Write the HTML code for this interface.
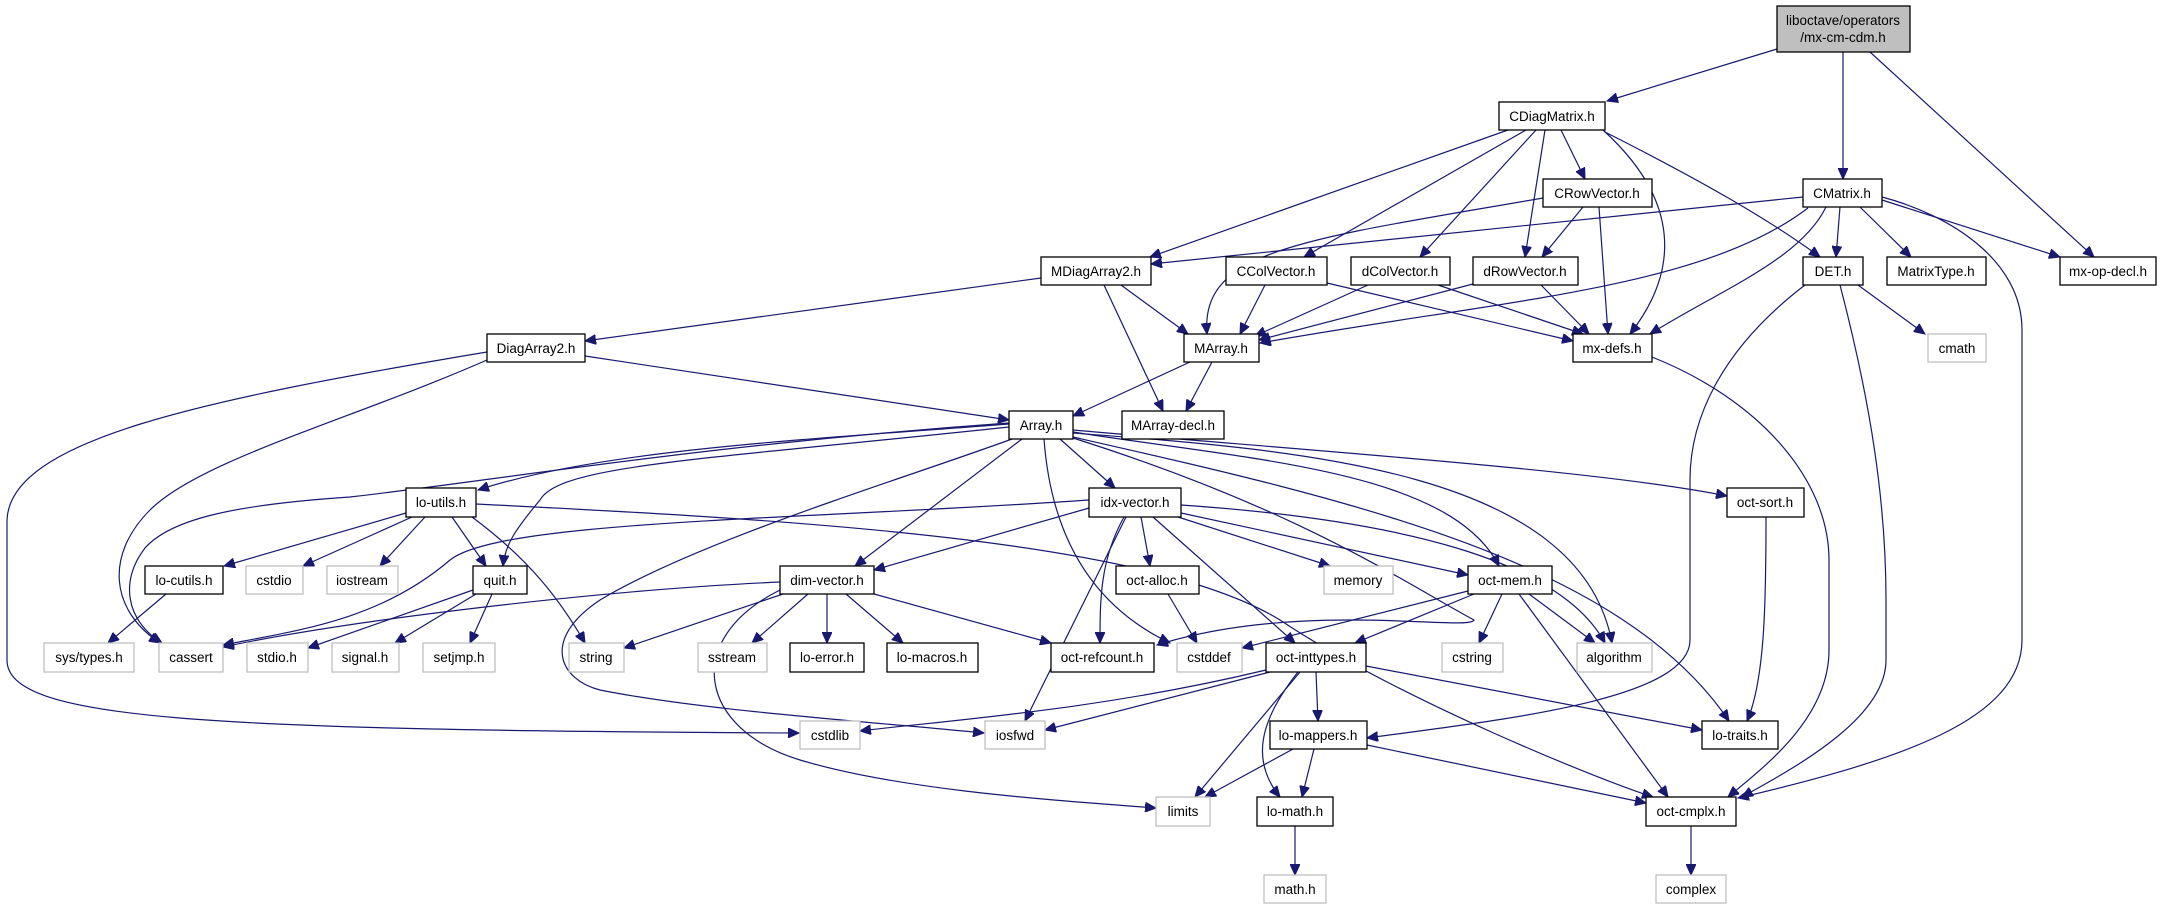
<!DOCTYPE html>
<html><head><meta charset="utf-8"><style>
html,body{margin:0;padding:0;background:#fff;}
svg{display:block;}
text{font-family:"Liberation Sans",sans-serif;font-size:13.5px;text-anchor:middle;fill:#000;}
.n{fill:#fff;stroke:#000;stroke-width:1.3;}
.g{fill:#fff;stroke:#bfbfbf;stroke-width:1.3;}
path{fill:none;stroke:#191970;stroke-width:1.2;marker-end:url(#a);}
</style></head><body>
<svg width="2162" height="909" viewBox="0 0 2162 909" xmlns="http://www.w3.org/2000/svg">
<defs><marker id="a" markerUnits="userSpaceOnUse" markerWidth="12" markerHeight="10" refX="11" refY="5" orient="auto"><path d="M0,0 L11,5 L0,10 Z" style="fill:#191970;stroke:#191970;stroke-width:1;marker-end:none"/></marker></defs>
<!-- edges -->
<path d="M1777,49 L1607,101"/>
<path d="M1843,52 L1843,179"/>
<path d="M1870,52 L2094,257"/>
<path d="M1508,130 L1150,257"/>
<path d="M1526,130 L1304,257"/>
<path d="M1536,130 L1420,257"/>
<path d="M1545,130 L1525,257"/>
<path d="M1561,130 L1585,179"/>
<path d="M1603,130 C1680,200 1680,270 1630,334"/>
<path d="M1605,132 C1700,180 1770,220 1820,257"/>
<path d="M1543,198 C1300,240 1200,250 1207,334"/>
<path d="M1583,207 L1542,257"/>
<path d="M1599,207 L1608,334"/>
<path d="M1803,197 L1151,264"/>
<path d="M1808,208 C1700,290 1500,300 1260,343"/>
<path d="M1826,207 C1800,260 1720,290 1650,334"/>
<path d="M1840,207 L1836,257"/>
<path d="M1860,207 L1911,257"/>
<path d="M1882,200 L2060,257"/>
<path d="M1882,197 C1950,215 2022,260 2022,330 L2022,640 C2022,720 1900,760 1738,798"/>
<path d="M1041,278 L585,341"/>
<path d="M1121,285 L1188,334"/>
<path d="M1104,285 L1163,411"/>
<path d="M1265,285 L1240,334"/>
<path d="M1327,283 L1573,341"/>
<path d="M1368,285 L1255,336"/>
<path d="M1438,285 L1583,334"/>
<path d="M1473,284 L1259,340"/>
<path d="M1541,285 L1589,334"/>
<path d="M1858,285 L1925,334"/>
<path d="M1805,285 C1720,350 1690,420 1690,480 L1690,640 C1690,700 1500,720 1367,738"/>
<path d="M1840,285 C1870,400 1886,500 1886,600 L1886,660 C1886,720 1790,770 1742,797"/>
<path d="M1652,357 C1760,400 1829,480 1829,560 L1829,650 C1829,720 1760,770 1728,797"/>
<path d="M1190,362 L1073,416"/>
<path d="M1212,362 L1186,411"/>
<path d="M585,356 L1009,420"/>
<path d="M487,360 C350,420 200,460 150,510 C105,555 110,610 160,643"/>
<path d="M487,352 C200,400 10,440 7,520 L7,660 C7,720 200,730 799,733"/>
<path d="M1009,424 C800,440 600,450 478,490"/>
<path d="M1009,427 C700,460 560,465 540,500 C515,530 505,545 503,566"/>
<path d="M1009,423 C700,445 500,480 350,497 C230,505 170,520 145,548 C120,580 125,620 162,643"/>
<path d="M1022,439 L855,566"/>
<path d="M1060,439 L1115,488"/>
<path d="M1044,439 C1050,520 1080,600 1170,643"/>
<path d="M1012,439 C900,480 700,540 600,600 C540,640 560,680 600,690 C700,710 850,720 984,733"/>
<path d="M1073,432 C1250,460 1450,470 1499,566"/>
<path d="M1073,433 C1300,450 1580,470 1612,643"/>
<path d="M1073,437 C1350,500 1620,560 1729,721"/>
<path d="M1073,430 C1300,450 1600,470 1727,496"/>
<path d="M1073,438 C1300,510 1400,580 1474,620 C1470,632 1300,600 1157,645"/>
<path d="M406,513 L224,566"/>
<path d="M412,517 L303,566"/>
<path d="M425,517 L380,566"/>
<path d="M452,517 L486,566"/>
<path d="M472,517 C530,560 560,600 585,643"/>
<path d="M476,504 C800,520 1150,540 1280,620 C1400,700 1600,780 1653,797"/>
<path d="M166,594 L108,643"/>
<path d="M473,590 L308,648"/>
<path d="M476,594 L395,643"/>
<path d="M492,594 L470,643"/>
<path d="M780,582 C600,590 350,620 223,647"/>
<path d="M783,594 L624,648"/>
<path d="M808,594 L752,643"/>
<path d="M827,594 L827,643"/>
<path d="M846,594 L903,643"/>
<path d="M874,594 L1051,643"/>
<path d="M780,590 C680,640 700,730 800,760 C900,790 1050,800 1156,808"/>
<path d="M1089,508 L874,570"/>
<path d="M1089,500 C800,520 500,520 450,560 C380,620 300,630 223,645"/>
<path d="M1141,517 L1150,566"/>
<path d="M1178,517 L1330,566"/>
<path d="M1181,513 L1468,575"/>
<path d="M1181,505 C1400,520 1560,560 1605,643"/>
<path d="M1153,517 L1295,643"/>
<path d="M1124,517 C1100,560 1100,600 1100,643"/>
<path d="M1126,517 L1025,721"/>
<path d="M1168,594 L1197,643"/>
<path d="M1468,591 L1242,648"/>
<path d="M1474,594 L1355,643"/>
<path d="M1502,594 L1479,643"/>
<path d="M1529,594 L1595,643"/>
<path d="M1519,594 L1668,797"/>
<path d="M1266,670 C1100,710 950,720 860,731"/>
<path d="M1270,672 L1045,730"/>
<path d="M1300,672 L1195,797"/>
<path d="M1298,672 C1260,720 1250,760 1280,797"/>
<path d="M1316,672 L1318,721"/>
<path d="M1366,666 L1702,730"/>
<path d="M1293,749 L1205,797"/>
<path d="M1314,749 L1302,797"/>
<path d="M1367,745 L1646,803"/>
<path d="M1295,826 L1295,875"/>
<path d="M1691,826 L1691,875"/>
<path d="M1766,517 C1766,600 1765,680 1747,721"/>
<!-- nodes -->
<rect x="1777" y="6" width="133" height="46" style="fill:#bfbfbf;stroke:#000;stroke-width:1.3"/>
<text x="1843" y="25">liboctave/operators</text><text x="1843" y="42">/mx-cm-cdm.h</text>
<rect class="n" x="1499" y="102" width="106" height="28"/><text x="1552" y="121">CDiagMatrix.h</text>
<rect class="n" x="1543" y="179" width="109" height="28"/><text x="1597" y="198">CRowVector.h</text>
<rect class="n" x="1803" y="179" width="79" height="28"/><text x="1842" y="198">CMatrix.h</text>
<rect class="n" x="1041" y="257" width="110" height="28"/><text x="1096" y="276">MDiagArray2.h</text>
<rect class="n" x="1226" y="257" width="101" height="28"/><text x="1276" y="276">CColVector.h</text>
<rect class="n" x="1351" y="257" width="99" height="28"/><text x="1400" y="276">dColVector.h</text>
<rect class="n" x="1473" y="257" width="105" height="28"/><text x="1525" y="276">dRowVector.h</text>
<rect class="n" x="1803" y="257" width="60" height="28"/><text x="1833" y="276">DET.h</text>
<rect class="n" x="1887" y="257" width="99" height="28"/><text x="1936" y="276">MatrixType.h</text>
<rect class="n" x="2060" y="257" width="96" height="28"/><text x="2108" y="276">mx-op-decl.h</text>
<rect class="n" x="487" y="334" width="98" height="28"/><text x="536" y="353">DiagArray2.h</text>
<rect class="n" x="1184" y="334" width="75" height="28"/><text x="1221" y="353">MArray.h</text>
<rect class="n" x="1573" y="334" width="79" height="28"/><text x="1612" y="353">mx-defs.h</text>
<rect class="g" x="1928" y="334" width="58" height="28"/><text x="1957" y="353">cmath</text>
<rect class="n" x="1009" y="411" width="64" height="28"/><text x="1041" y="430">Array.h</text>
<rect class="n" x="1122" y="411" width="102" height="28"/><text x="1173" y="430">MArray-decl.h</text>
<rect class="n" x="406" y="488" width="70" height="29"/><text x="441" y="507">lo-utils.h</text>
<rect class="n" x="1089" y="488" width="92" height="29"/><text x="1135" y="507">idx-vector.h</text>
<rect class="n" x="1727" y="488" width="77" height="29"/><text x="1765" y="507">oct-sort.h</text>
<rect class="n" x="145" y="566" width="78" height="28"/><text x="184" y="585">lo-cutils.h</text>
<rect class="g" x="246" y="566" width="57" height="28"/><text x="274" y="585">cstdio</text>
<rect class="g" x="327" y="566" width="71" height="28"/><text x="362" y="585">iostream</text>
<rect class="n" x="473" y="566" width="54" height="28"/><text x="500" y="585">quit.h</text>
<rect class="n" x="780" y="566" width="94" height="28"/><text x="827" y="585">dim-vector.h</text>
<rect class="n" x="1116" y="566" width="83" height="28"/><text x="1157" y="585">oct-alloc.h</text>
<rect class="g" x="1324" y="566" width="69" height="28"/><text x="1358" y="585">memory</text>
<rect class="n" x="1468" y="566" width="84" height="28"/><text x="1510" y="585">oct-mem.h</text>
<rect class="g" x="44" y="643" width="90" height="29"/><text x="89" y="662">sys/types.h</text>
<rect class="g" x="159" y="643" width="64" height="29"/><text x="191" y="662">cassert</text>
<rect class="g" x="247" y="643" width="61" height="29"/><text x="277" y="662">stdio.h</text>
<rect class="g" x="332" y="643" width="67" height="29"/><text x="365" y="662">signal.h</text>
<rect class="g" x="423" y="643" width="72" height="29"/><text x="459" y="662">setjmp.h</text>
<rect class="g" x="569" y="643" width="55" height="29"/><text x="596" y="662">string</text>
<rect class="g" x="698" y="643" width="69" height="29"/><text x="732" y="662">sstream</text>
<rect class="n" x="790" y="643" width="74" height="29"/><text x="827" y="662">lo-error.h</text>
<rect class="n" x="887" y="643" width="91" height="29"/><text x="932" y="662">lo-macros.h</text>
<rect class="n" x="1051" y="643" width="103" height="29"/><text x="1102" y="662">oct-refcount.h</text>
<rect class="g" x="1177" y="643" width="65" height="29"/><text x="1209" y="662">cstddef</text>
<rect class="n" x="1266" y="643" width="100" height="29"/><text x="1316" y="662">oct-inttypes.h</text>
<rect class="g" x="1442" y="643" width="61" height="29"/><text x="1472" y="662">cstring</text>
<rect class="g" x="1577" y="643" width="75" height="29"/><text x="1614" y="662">algorithm</text>
<rect class="g" x="800" y="721" width="60" height="28"/><text x="830" y="740">cstdlib</text>
<rect class="g" x="985" y="721" width="60" height="28"/><text x="1015" y="740">iosfwd</text>
<rect class="n" x="1270" y="721" width="97" height="28"/><text x="1318" y="740">lo-mappers.h</text>
<rect class="n" x="1702" y="721" width="76" height="28"/><text x="1740" y="740">lo-traits.h</text>
<rect class="g" x="1156" y="797" width="54" height="29"/><text x="1183" y="816">limits</text>
<rect class="n" x="1257" y="797" width="76" height="29"/><text x="1295" y="816">lo-math.h</text>
<rect class="n" x="1646" y="797" width="90" height="29"/><text x="1691" y="816">oct-cmplx.h</text>
<rect class="g" x="1264" y="875" width="62" height="28"/><text x="1295" y="894">math.h</text>
<rect class="g" x="1656" y="875" width="70" height="28"/><text x="1691" y="894">complex</text>
</svg>
</body></html>
